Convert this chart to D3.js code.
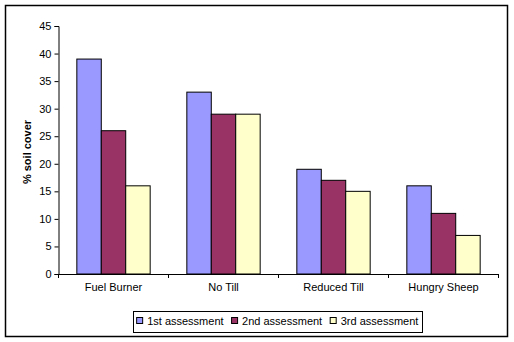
<!DOCTYPE html>
<html><head><meta charset="utf-8">
<script src="https://cdn.jsdelivr.net/npm/d3@7"></script>
<style>body{margin:0;background:#fff}svg{display:block}text{font-family:"Liberation Sans",Arial,sans-serif}</style>
</head><body><svg id="c" width="514" height="342"></svg>
<script>
const categories = ["Fuel Burner","No Till","Reduced Till","Hungry Sheep"];
const seriesNames = ["1st assessment","2nd assessment","3rd assessment"];
const s1 = [39,33,19,16];
const s2 = [26,29,17,11];
const s3 = [16,29,15,7];
const yTicks = [0,5,10,15,20,25,30,35,40,45];
const colors = ["#9999FF","#993366","#FFFFCC"];
const series = [s1,s2,s3];

const svg = d3.select("#c");
svg.append("rect").attr("x",5.5).attr("y",5.5).attr("width",502).attr("height",331)
  .attr("fill","#fff").attr("stroke","#000").attr("stroke-width",1.5);

const L=58.5, R=498.5, T=26, B=274;
const x = d3.scaleBand().domain(categories).range([L,R]).paddingInner(0).paddingOuter(0);
const y = d3.scaleLinear().domain([0,45]).range([B,T]);
const bw = x.bandwidth()/4.5;
const xs = d3.scaleBand().domain(d3.range(3)).range([0,bw*3]);

const g = svg.append("g");
categories.forEach((c,i)=>{
  series.forEach((s,j)=>{
    g.append("rect").attr("x",x(c)+bw*0.75+xs(j)).attr("y",y(s[i]))
      .attr("width",xs.bandwidth()).attr("height",B-y(s[i]))
      .attr("fill",colors[j]).attr("stroke","#000").attr("stroke-width",1);
  });
});

const ya = svg.append("g").attr("transform",`translate(${L},0)`)
  .call(d3.axisLeft(y).tickValues(yTicks).tickSize(4).tickPadding(3));
ya.select(".domain").attr("stroke","#000");
ya.selectAll("text").attr("font-size","11px").attr("fill","#000").attr("font-family","Liberation Sans, Arial, sans-serif");

const xa = svg.append("g").attr("transform",`translate(0,${B})`)
  .call(d3.axisBottom(x).tickSize(0).tickPadding(9));
xa.select(".domain").attr("stroke","#000");
xa.selectAll("text").attr("font-size","11px").attr("fill","#000").attr("font-family","Liberation Sans, Arial, sans-serif");
const tickPos = categories.map(c=>x(c)).concat([R]);
svg.append("g").selectAll("line").data(tickPos).join("line")
  .attr("x1",d=>d).attr("x2",d=>d).attr("y1",B).attr("y2",B+4).attr("stroke","#000");

svg.append("text").attr("transform",`translate(31,${(T+B)/2+2}) rotate(-90)`)
  .attr("text-anchor","middle").attr("font-size","11px").attr("font-weight","bold").text("% soil cover");

// legend
const lg = svg.append("g");
const box = lg.append("rect").attr("y",311.5).attr("height",21)
  .attr("fill","#fff").attr("stroke","#000").attr("stroke-width",1);
let cx = 0;
const items = [];
seriesNames.forEach((n,j)=>{
  const m = lg.append("rect").attr("x",cx).attr("y",317.5).attr("width",6).attr("height",6)
    .attr("fill",colors[j]).attr("stroke","#000");
  const t = lg.append("text").attr("x",cx+10.5).attr("y",325).attr("font-size","11px").text(n);
  const w = t.node().getComputedTextLength();
  items.push([m,t]);
  cx = cx + 10.5 + w + 8;
});
const total = cx - 8;
const startX = 277.5 - total/2;
lg.selectAll("rect:not(:first-child), text").attr("transform",`translate(${startX},0)`);
box.attr("x",Math.round(startX-3.5)+0.5).attr("width",Math.round(total+7));
</script></body></html>
